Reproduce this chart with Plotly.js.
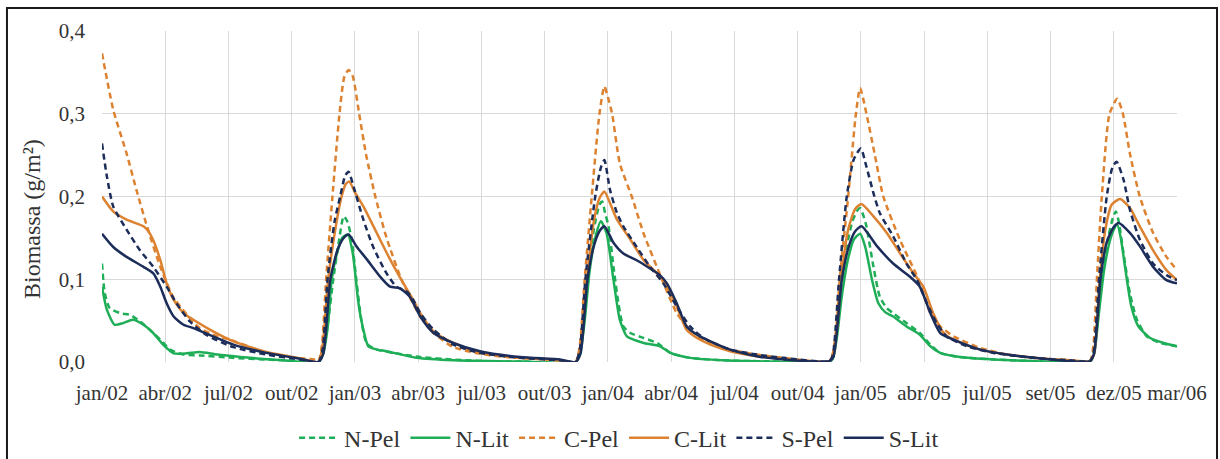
<!DOCTYPE html>
<html>
<head>
<meta charset="utf-8">
<script src="https://cdn.plot.ly/plotly-3.0.1.min.js"></script>
<style>
  html, body { margin: 0; padding: 0; background: #fff; }
  #chart { width: 1220px; height: 459px; }
</style>
</head>
<body>
<div id="chart"></div>
<script>
// Eixo x: dias contados a partir do rótulo "jan/02" (rótulos a cada 90 dias)
const tickDias = [0, 90, 180, 270, 360, 450, 540, 630, 720, 810, 900, 990, 1080, 1170, 1260, 1350, 1440, 1530];
const tickRotulos = ["jan/02", "abr/02", "jul/02", "out/02", "jan/03", "abr/03", "jul/03", "out/03",
  "jan/04", "abr/04", "jul/04", "out/04", "jan/05", "abr/05", "jul/05", "set/05", "dez/05", "mar/06"];

const series = ["N-Pel", "N-Lit", "C-Pel", "C-Lit", "S-Pel", "S-Lit"];
const tituloY = "Biomassa (g/m²)";

// N-Pel
const nPelDia = [0,4,11,26,40,54,68,83,97,116,139,187,234,282,308,
  314,322,329,337,344,349,355,362,369,377,391,415,453,500,548,600,674,
  680,687,693,700,708,712,716,721,728,735,742,752,771,790,809,837,885,932,990,1035,
  1040,1045,1052,1060,1068,1075,1079,1084,1088,1098,1107,1117,1126,1145,1164,1179,1193,1221,1269,1330,1406,
  1411,1418,1425,1432,1439,1443,1447,1454,1463,1473,1487,1506,1530];
const nPelVal = [0.119,0.083,0.065,0.059,0.057,0.049,0.039,0.027,0.015,0.009,0.008,0.005,0.003,0.001,0.0,
  0.010,0.050,0.099,0.145,0.176,0.170,0.150,0.099,0.051,0.022,0.015,0.011,0.006,0.003,0.001,0.0005,0.0,
  0.010,0.060,0.110,0.160,0.190,0.194,0.180,0.164,0.115,0.071,0.043,0.035,0.029,0.023,0.011,0.005,0.002,0.001,0.0005,0.0,
  0.005,0.030,0.090,0.140,0.170,0.183,0.186,0.176,0.164,0.115,0.079,0.065,0.059,0.047,0.035,0.021,0.011,0.006,0.003,0.001,0.0,
  0.010,0.060,0.110,0.150,0.175,0.182,0.170,0.131,0.083,0.051,0.031,0.023,0.019];

// N-Lit
const nLitDia = [0,7,18,30,44,59,73,87,102,121,139,164,211,258,308,
  314,321,327,334,342,350,357,365,372,379,392,405,448,500,600,674,
  680,687,694,702,710,718,728,737,747,760,771,794,809,837,885,950,1035,
  1040,1046,1053,1062,1070,1079,1086,1096,1105,1115,1126,1145,1164,1179,1193,1221,1269,1330,1406,
  1412,1419,1426,1434,1440,1445,1450,1456,1465,1475,1492,1511,1530];
const nLitVal = [0.091,0.063,0.045,0.047,0.051,0.045,0.035,0.021,0.0105,0.0105,0.012,0.009,0.005,0.002,0.0,
  0.008,0.040,0.100,0.130,0.150,0.154,0.131,0.071,0.039,0.019,0.015,0.013,0.005,0.002,0.0005,0.0,
  0.008,0.050,0.110,0.150,0.170,0.156,0.099,0.051,0.031,0.026,0.023,0.019,0.011,0.005,0.002,0.0005,0.0,
  0.004,0.030,0.080,0.125,0.148,0.155,0.140,0.099,0.071,0.060,0.055,0.043,0.033,0.019,0.011,0.006,0.003,0.001,0.0,
  0.010,0.060,0.110,0.145,0.160,0.166,0.150,0.115,0.067,0.043,0.029,0.023,0.019];

// C-Pel
const cPelDia = [0,16,35,49,64,83,101,121,139,164,179,234,275,302,308,
  313,319,328,338,345,351,357,366,376,389,405,426,440,453,472,500,538,576,614,652,674,
  680,687,697,708,715,720,726,737,754,771,797,818,837,856,894,932,970,999,1035,
  1040,1045,1050,1062,1073,1079,1088,1100,1112,1136,1162,1179,1193,1212,1250,1288,1326,1378,1406,
  1411,1416,1423,1434,1445,1453,1463,1477,1496,1515,1530];
const cPelVal = [0.373,0.305,0.252,0.208,0.164,0.115,0.079,0.057,0.041,0.031,0.028,0.011,0.005,0.003,0.001,
  0.020,0.100,0.200,0.300,0.345,0.353,0.345,0.300,0.250,0.200,0.150,0.100,0.075,0.055,0.035,0.018,0.010,0.006,0.004,0.002,0.0,
  0.020,0.100,0.200,0.300,0.333,0.320,0.300,0.240,0.200,0.155,0.100,0.059,0.039,0.027,0.015,0.009,0.005,0.002,0.001,
  0.010,0.040,0.100,0.200,0.300,0.331,0.300,0.250,0.200,0.147,0.100,0.059,0.043,0.031,0.017,0.009,0.005,0.002,0.001,
  0.020,0.100,0.200,0.300,0.318,0.300,0.252,0.200,0.156,0.127,0.111];

// C-Lit
const cLitDia = [0,16,35,59,66,73,83,92,102,116,130,158,187,234,282,308,
  314,322,332,341,347,352,360,372,391,410,429,443,453,472,500,538,595,652,674,
  680,690,700,708,715,724,733,752,771,790,804,818,832,847,866,894,932,970,1035,
  1040,1046,1052,1062,1072,1081,1098,1117,1136,1155,1169,1183,1198,1212,1250,1288,1326,1378,1406,
  1412,1420,1428,1437,1449,1463,1477,1496,1515,1530];
const cLitVal = [0.200,0.182,0.172,0.164,0.158,0.147,0.123,0.095,0.075,0.059,0.051,0.037,0.025,0.012,0.0045,0.0,
  0.020,0.100,0.160,0.200,0.215,0.218,0.205,0.188,0.156,0.124,0.095,0.075,0.059,0.037,0.023,0.011,0.005,0.002,0.0,
  0.015,0.100,0.170,0.198,0.206,0.190,0.172,0.148,0.123,0.107,0.091,0.067,0.039,0.029,0.021,0.013,0.007,0.004,0.001,
  0.008,0.040,0.100,0.160,0.185,0.191,0.176,0.156,0.131,0.107,0.091,0.059,0.035,0.027,0.015,0.009,0.005,0.002,0.001,
  0.010,0.100,0.160,0.190,0.197,0.186,0.164,0.135,0.111,0.099];

// S-Pel
const sPelDia = [0,7,16,35,54,73,92,106,125,150,187,234,282,308,
  314,321,331,339,346,351,358,372,386,405,419,434,443,453,472,500,538,595,652,674,
  680,688,702,710,715,723,733,742,761,780,799,818,837,856,894,932,970,1035,
  1040,1049,1060,1070,1080,1088,1098,1107,1126,1145,1160,1174,1188,1202,1231,1269,1326,1378,1406,
  1411,1419,1430,1438,1444,1454,1463,1477,1496,1515,1530];
const sPelVal = [0.264,0.224,0.188,0.160,0.135,0.115,0.091,0.071,0.049,0.032,0.018,0.009,0.003,0.0,
  0.015,0.100,0.170,0.200,0.225,0.230,0.212,0.172,0.139,0.107,0.091,0.085,0.075,0.059,0.039,0.021,0.011,0.005,0.002,0.0,
  0.015,0.100,0.200,0.235,0.244,0.208,0.180,0.164,0.139,0.115,0.095,0.067,0.043,0.029,0.015,0.009,0.005,0.001,
  0.008,0.100,0.200,0.245,0.258,0.236,0.204,0.180,0.152,0.119,0.099,0.071,0.047,0.031,0.019,0.011,0.005,0.002,0.001,
  0.010,0.100,0.200,0.235,0.242,0.220,0.184,0.148,0.119,0.105,0.099];

// S-Lit
const sLitDia = [0,16,35,59,73,83,92,102,116,130,158,187,234,282,308,
  315,325,335,344,351,362,377,396,410,424,438,453,472,500,538,595,652,674,
  681,691,700,708,715,728,742,761,780,794,804,818,832,847,866,894,932,970,1035,
  1041,1053,1063,1072,1081,1103,1126,1150,1164,1179,1193,1212,1250,1288,1340,1406,
  1412,1421,1430,1440,1447,1463,1477,1496,1515,1530];
const sLitVal = [0.155,0.139,0.127,0.115,0.107,0.091,0.071,0.055,0.045,0.041,0.031,0.021,0.011,0.004,0.0,
  0.010,0.100,0.135,0.150,0.154,0.140,0.124,0.103,0.091,0.089,0.079,0.055,0.035,0.023,0.013,0.006,0.003,0.0,
  0.010,0.100,0.140,0.158,0.164,0.144,0.131,0.123,0.113,0.105,0.095,0.071,0.043,0.033,0.025,0.015,0.007,0.003,0.001,
  0.006,0.100,0.140,0.158,0.164,0.140,0.119,0.103,0.091,0.059,0.035,0.027,0.015,0.009,0.004,0.001,
  0.010,0.100,0.145,0.163,0.168,0.156,0.140,0.115,0.099,0.095];

const verde = "#1fae58", laranja = "#dc8230", azul = "#1c2d5a";
const tracejado = "6px,4px";
const fonte = "Times New Roman, Liberation Serif, DejaVu Serif, serif";

function linha(nome, x, y, cor, dash) {
  return {
    type: "scatter", mode: "lines", name: nome, x: x, y: y,
    line: { color: cor, width: 2.5, dash: dash, shape: "spline", smoothing: 0.6 },
    hoverinfo: "skip"
  };
}

const traces = [
  linha(series[0], nPelDia, nPelVal, verde, tracejado),
  linha(series[1], nLitDia, nLitVal, verde, "solid"),
  linha(series[2], cPelDia, cPelVal, laranja, tracejado),
  linha(series[3], cLitDia, cLitVal, laranja, "solid"),
  linha(series[4], sPelDia, sPelVal, azul, tracejado),
  linha(series[5], sLitDia, sLitVal, azul, "solid")
];

const layout = {
  width: 1220, height: 459,
  margin: { l: 102, r: 43, t: 31, b: 97, autoexpand: false },
  paper_bgcolor: "#ffffff", plot_bgcolor: "#ffffff",
  separators: ",.",
  font: { family: fonte, size: 21, color: "#333333" },
  showlegend: true,
  xaxis: {
    type: "linear", range: [0, 1530], autorange: false, automargin: false,
    tickmode: "array", tickvals: tickDias, ticktext: tickRotulos,
    showgrid: true, gridcolor: "#d9d9d9", gridwidth: 1,
    zeroline: false, showline: false, ticks: "",
    ticklabelstandoff: 16,
    tickfont: { family: fonte, size: 21, color: "#333333" }
  },
  yaxis: {
    range: [0, 0.4], autorange: false, automargin: false, dtick: 0.1, tick0: 0, tickformat: ".1f",
    showgrid: true, gridcolor: "#d9d9d9", gridwidth: 1,
    zeroline: false, showline: false, ticks: "",
    ticklabelstandoff: 16,
    tickfont: { family: fonte, size: 21, color: "#333333" }
  },
  annotations: [{
    text: tituloY, xref: "paper", yref: "paper", x: -0.0651, y: 0.432,
    xanchor: "center", yanchor: "middle", textangle: -90, showarrow: false,
    font: { family: fonte, size: 24, color: "#333333" }
  }],
  legend: {
    orientation: "h", x: 0.481, xanchor: "center", y: -0.23, yanchor: "middle",
    font: { family: fonte, size: 24, color: "#333333" },
    bgcolor: "rgba(0,0,0,0)", itemwidth: 40, tracegroupgap: 0
  },
  shapes: [{
    type: "rect", xref: "paper", yref: "paper", layer: "above",
    x0: -0.0884, x1: 1.0372, y0: -0.33, y1: 1.0695,
    line: { color: "#1a1a1a", width: 2 }, fillcolor: "rgba(0,0,0,0)"
  }]
};

Plotly.newPlot("chart", traces, layout, { displayModeBar: false, staticPlot: true });
</script>
</body>
</html>
